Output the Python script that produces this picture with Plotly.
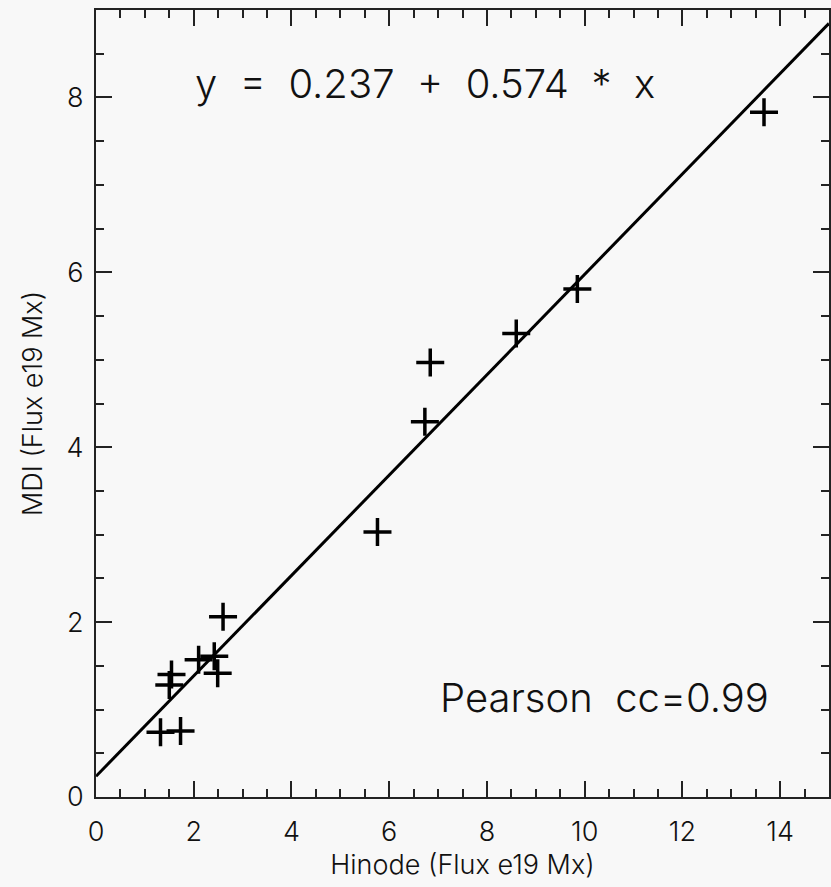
import plotly.graph_objects as go

# Data
hinode_flux = [1.32, 1.73, 1.50, 1.545, 2.10, 2.42, 2.49, 2.60, 5.76, 6.73, 6.84, 8.60, 9.85, 13.67]
mdi_flux = [0.74, 0.755, 1.28, 1.40, 1.57, 1.61, 1.415, 2.06, 3.03, 4.29, 4.97, 5.30, 5.81, 7.83]

fit_intercept = 0.237
fit_slope = 0.574
fit_x = [0.0, 15.0]
fit_y = [fit_intercept + fit_slope * v for v in fit_x]

x_ticks = [0, 2, 4, 6, 8, 10, 12, 14]
y_ticks = [0, 2, 4, 6, 8]

FONT = "Inter, DejaVu Sans, sans-serif"
W = 300
INK = "#111111"
AX = "#222222"
BG = "#f8f8f8"

fig = go.Figure()
fig.add_trace(go.Scatter(
    x=fit_x, y=fit_y, mode="lines",
    line=dict(color="black", width=3), showlegend=False, hoverinfo="skip"))
fig.add_trace(go.Scatter(
    x=hinode_flux, y=mdi_flux, mode="markers",
    marker=dict(symbol="cross-thin", size=20, color="black",
                line=dict(color="black", width=3.5)),
    showlegend=False))

axis_common = dict(
    showgrid=False, zeroline=False, showline=True, linecolor=AX, linewidth=2,
    mirror="ticks", ticks="inside", ticklen=16, tickwidth=2, tickcolor=AX,
    tickfont=dict(family=FONT, size=27, color=INK, weight=W),
    title_font=dict(family=FONT, size=27, color=INK, weight=W),
    minor=dict(dtick=0.5, ticks="inside", ticklen=8, tickwidth=2, tickcolor=AX),
)

fig.update_xaxes(range=[0, 15], tickvals=x_ticks, ticktext=[str(v) for v in x_ticks],
                 title_text="Hinode (Flux e19 Mx)", title_standoff=8,
                 ticklabelstandoff=10, **axis_common)
fig.update_yaxes(range=[0, 9], tickvals=y_ticks, ticktext=[str(v) for v in y_ticks],
                 title_text="MDI (Flux e19 Mx)", title_standoff=16,
                 ticklabelstandoff=5, **axis_common)

fig.add_annotation(x=1.98, y=8.16, xref="x", yref="y", xanchor="left", yanchor="middle",
                   text="y\u00a0\u00a0=\u00a0\u00a00.237\u00a0\u00a0+\u00a0\u00a00.574\u00a0\u00a0*\u00a0\u00a0x",
                   showarrow=False, font=dict(family=FONT, size=40, color=INK, weight=W))
fig.add_annotation(x=7.0, y=1.14, xref="x", yref="y", xanchor="left", yanchor="middle",
                   text="Pearson\u00a0\u00a0cc=0.99",
                   showarrow=False, font=dict(family=FONT, size=40, color=INK, weight=W))

fig.update_layout(
    width=831, height=887,
    margin=dict(l=96, r=0, t=10, b=90),
    paper_bgcolor=BG, plot_bgcolor=BG,
    font=dict(family=FONT, color=INK, weight=W),
)

fig.write_html("out.html")
